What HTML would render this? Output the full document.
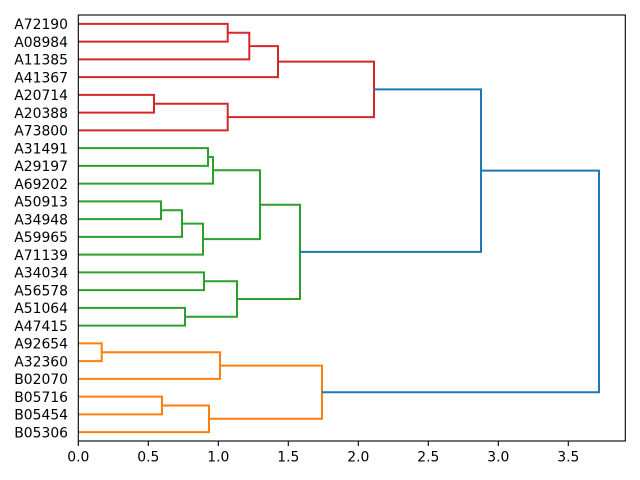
<!DOCTYPE html>
<html><head><meta charset="utf-8"><style>
html,body{margin:0;padding:0;background:#fff;}
svg{display:block;}
text{font-family:"DejaVu Sans","Liberation Sans",sans-serif;font-size:13.9px;fill:#000;}
</style></head><body>
<svg width="640" height="480" viewBox="0 0 640 480" xmlns="http://www.w3.org/2000/svg">
<rect x="0" y="0" width="640" height="480" fill="#fff"/>
<g fill="none" stroke-width="2" stroke-linejoin="miter" stroke-linecap="butt">
<!-- red -->
<g stroke="#d62728">
<polyline points="78.3,23.9 227.7,23.9 227.7,41.65 78.3,41.65"/>
<polyline points="227.7,32.8 249.3,32.8 249.3,59.4 78.3,59.4"/>
<polyline points="249.3,46.1 278,46.1 278,77.15 78.3,77.15"/>
<polyline points="78.3,94.9 154,94.9 154,112.65 78.3,112.65"/>
<polyline points="154,103.8 227.7,103.8 227.7,130.4 78.3,130.4"/>
<polyline points="278,61.6 374,61.6 374,117.1 227.7,117.1"/>
</g>
<!-- green -->
<g stroke="#2ca02c">
<polyline points="78.3,148.15 208,148.15 208,165.9 78.3,165.9"/>
<polyline points="208,157 213,157 213,183.65 78.3,183.65"/>
<polyline points="78.3,201.4 161,201.4 161,219.15 78.3,219.15"/>
<polyline points="161,210.3 182,210.3 182,236.9 78.3,236.9"/>
<polyline points="182,223.6 203,223.6 203,254.65 78.3,254.65"/>
<polyline points="213,170.3 260,170.3 260,239.1 203,239.1"/>
<polyline points="78.3,272.4 204,272.4 204,290.15 78.3,290.15"/>
<polyline points="78.3,307.9 185,307.9 185,325.65 78.3,325.65"/>
<polyline points="204,281.3 237,281.3 237,316.8 185,316.8"/>
<polyline points="260,204.7 300,204.7 300,299 237,299"/>
</g>
<!-- orange -->
<g stroke="#ff7f0e">
<polyline points="78.3,343.4 101.7,343.4 101.7,361.15 78.3,361.15"/>
<polyline points="101.7,352.3 220,352.3 220,378.9 78.3,378.9"/>
<polyline points="78.3,396.65 162,396.65 162,414.4 78.3,414.4"/>
<polyline points="162,405.5 209,405.5 209,432.15 78.3,432.15"/>
<polyline points="220,365.6 322,365.6 322,418.8 209,418.8"/>
</g>
<!-- blue -->
<g stroke="#1f77b4">
<polyline points="374,89.35 481,89.35 481,251.9 300,251.9"/>
<polyline points="481,170.6 599,170.6 599,392.2 322,392.2"/>
</g>
</g>
<!-- axes frame -->
<rect x="78.3" y="15" width="547" height="426" fill="none" stroke="#000" stroke-width="1.1"/>
<!-- x ticks -->
<g stroke="#000" stroke-width="1.1">
<line x1="78.3" y1="441" x2="78.3" y2="446"/>
<line x1="148.3" y1="441" x2="148.3" y2="446"/>
<line x1="218.3" y1="441" x2="218.3" y2="446"/>
<line x1="288.3" y1="441" x2="288.3" y2="446"/>
<line x1="358.3" y1="441" x2="358.3" y2="446"/>
<line x1="428.3" y1="441" x2="428.3" y2="446"/>
<line x1="498.3" y1="441" x2="498.3" y2="446"/>
<line x1="568.3" y1="441" x2="568.3" y2="446"/>
</g>
<g text-anchor="middle">
<text x="78.3" y="461.7">0.0</text>
<text x="148.3" y="461.7">0.5</text>
<text x="218.3" y="461.7">1.0</text>
<text x="288.3" y="461.7">1.5</text>
<text x="358.3" y="461.7">2.0</text>
<text x="428.3" y="461.7">2.5</text>
<text x="498.3" y="461.7">3.0</text>
<text x="568.3" y="461.7">3.5</text>
</g>
<g text-anchor="end">
<text x="68" y="29.2">A72190</text>
<text x="68" y="46.95">A08984</text>
<text x="68" y="64.7">A11385</text>
<text x="68" y="82.45">A41367</text>
<text x="68" y="100.2">A20714</text>
<text x="68" y="117.95">A20388</text>
<text x="68" y="135.7">A73800</text>
<text x="68" y="153.45">A31491</text>
<text x="68" y="171.2">A29197</text>
<text x="68" y="188.95">A69202</text>
<text x="68" y="206.7">A50913</text>
<text x="68" y="224.45">A34948</text>
<text x="68" y="242.2">A59965</text>
<text x="68" y="259.95">A71139</text>
<text x="68" y="277.7">A34034</text>
<text x="68" y="295.45">A56578</text>
<text x="68" y="313.2">A51064</text>
<text x="68" y="330.95">A47415</text>
<text x="68" y="348.7">A92654</text>
<text x="68" y="366.45">A32360</text>
<text x="68" y="384.2">B02070</text>
<text x="68" y="401.95">B05716</text>
<text x="68" y="419.7">B05454</text>
<text x="68" y="437.45">B05306</text>
</g>
</svg>
</body></html>
